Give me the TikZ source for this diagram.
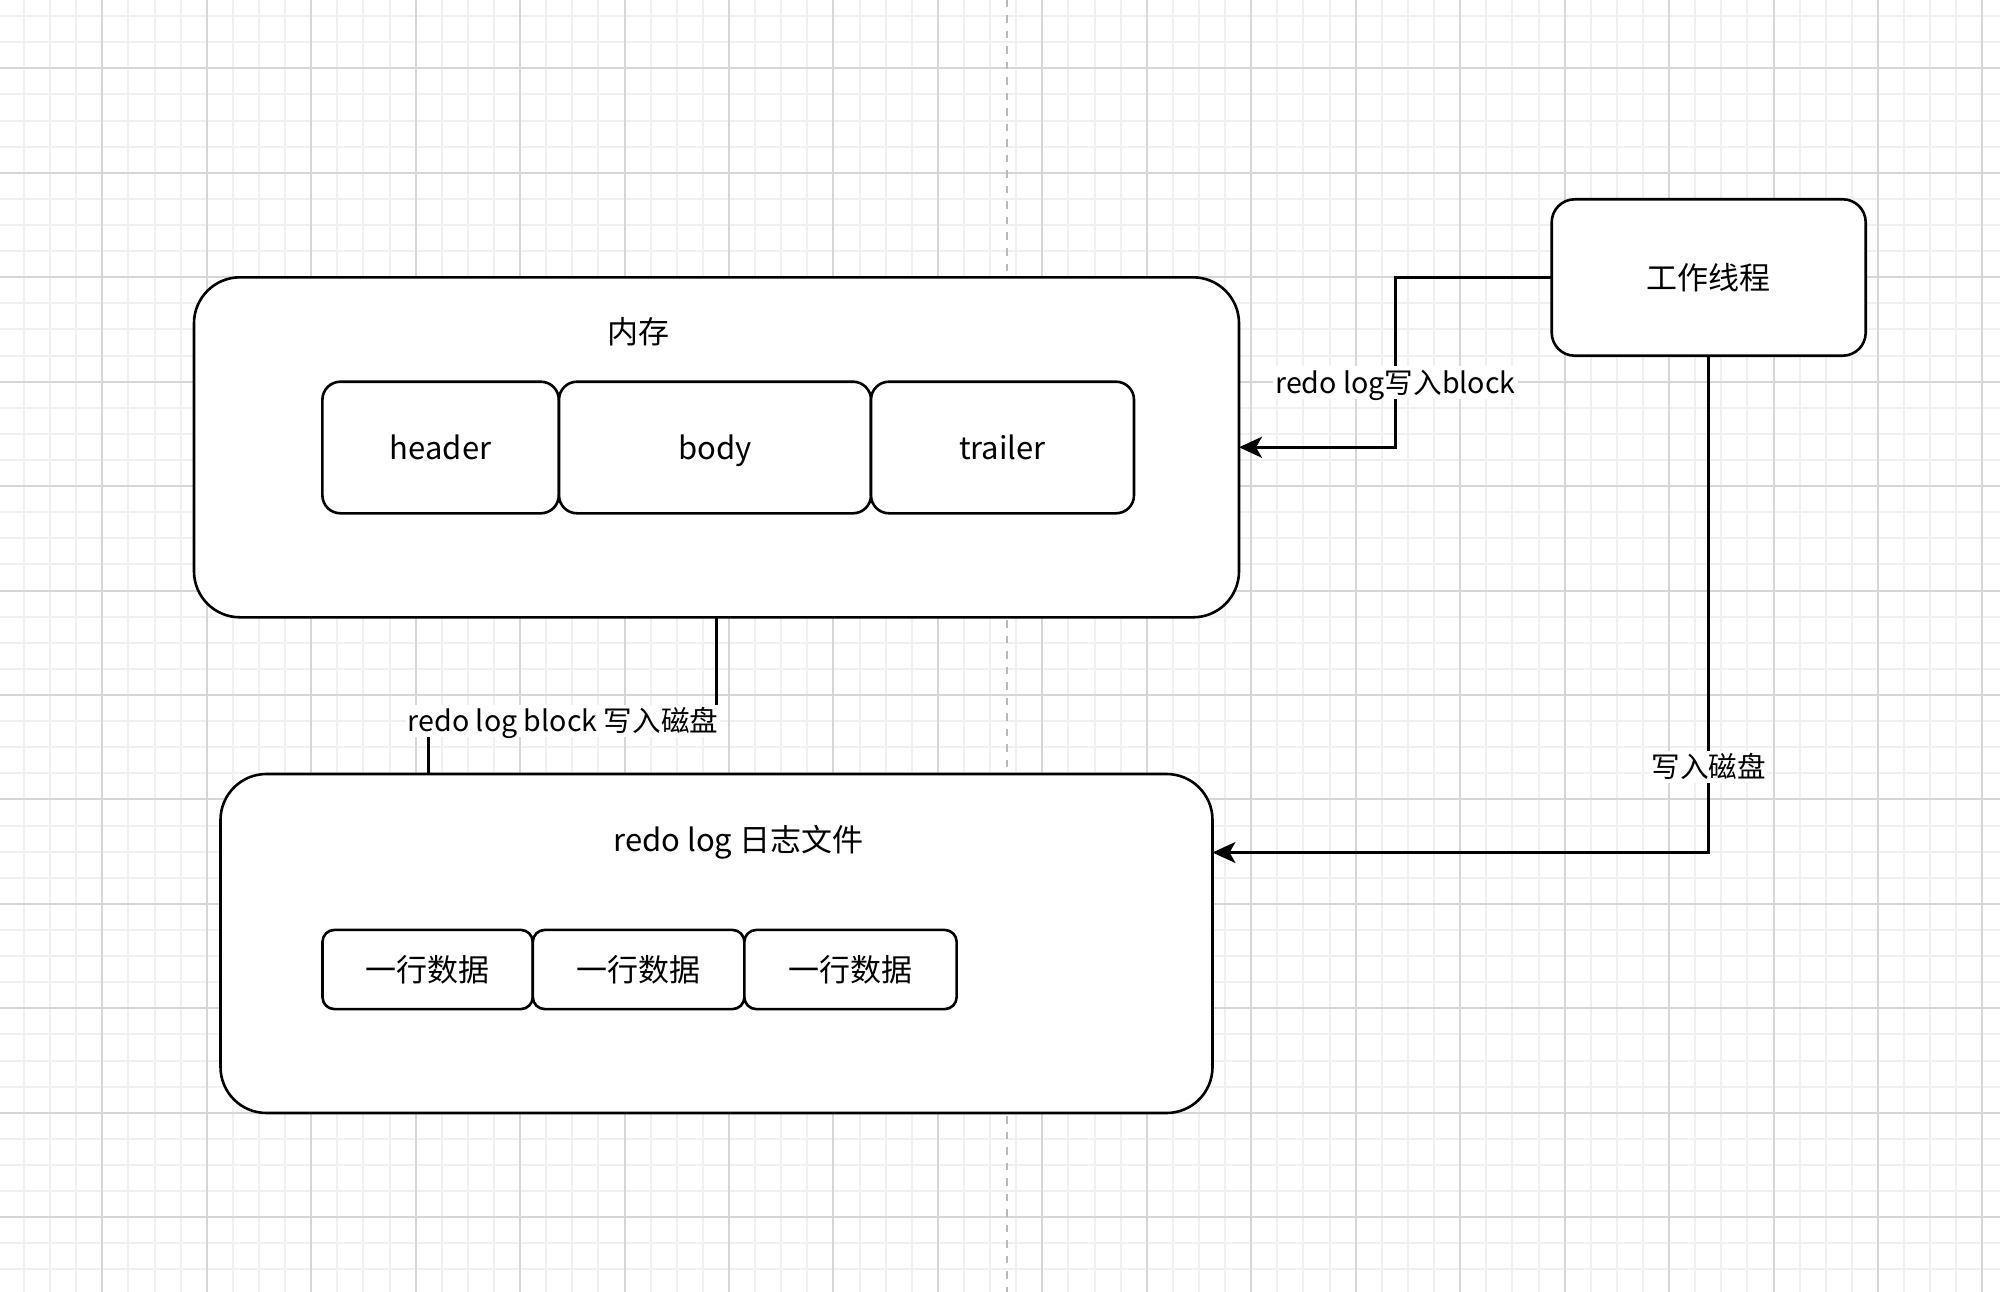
\documentclass[tikz,border=0pt]{standalone}
\usepackage{fontspec}
\setmainfont{Noto Sans CJK SC}
\usetikzlibrary{arrows.meta}
\newcommand\myvfont{\fontsize{31}{37}\selectfont}
\newcommand\myefont{\fontsize{28.6}{34}\selectfont}
\begin{document}
\begin{tikzpicture}[x=1pt,y=-1pt,
  minorline/.style={draw={rgb,255:red,240;green,240;blue,240}, line width=2pt},
  majorline/.style={draw={rgb,255:red,214;green,214;blue,214}, line width=2pt},
  rbox/.style={draw=black, line width=2.6pt, fill=white, inner sep=0pt, outer sep=0pt, rounded corners=#1},
  vtext/.style={font=\myvfont, text height=27.3pt, text depth=3.7pt, inner sep=0pt},
  etext/.style={font=\myefont, text height=25.2pt, text depth=3.4pt, inner sep=2pt, fill=white},
  conn/.style={draw=black, line width=2.6pt},
  tip/.style={-{Stealth[length=23pt,width=21pt,inset=6pt]}}
]
\useasboundingbox (0,0) rectangle (2000,1292);
\clip (0,0) rectangle (2000,1292);
\fill[white] (0,0) rectangle (2000,1292);
% grid
\foreach \i in {-4,...,73} \draw[minorline] ({102.3+26.1125*\i},0) -- ++(0,1292);
\foreach \i in {-3,...,47} \draw[minorline] (0,{68.3+26.1125*\i}) -- ++(2000,0);
\foreach \i in {-1,...,18} \draw[majorline] ({102.3+104.45*\i},0) -- ++(0,1292);
\foreach \i in {-1,...,12} \draw[majorline] (0,{68.3+104.45*\i}) -- ++(2000,0);
% page divider
\draw[draw={rgb,255:red,185;green,185;blue,185}, line width=2pt, dash pattern=on 7.5pt off 8pt] (1006.7,0) -- (1006.7,1292);

% memory block
\node[rbox=46pt, minimum width=1045pt, minimum height=340pt] (mem) at (716.5,447.3) {};
\node[vtext] (memlabel) at (638,332) {内存};
\node[rbox=18pt, minimum width=236.4pt, minimum height=131.6pt, vtext] (header) at (440.6,447.5) {header};
\node[rbox=18pt, minimum width=312pt, minimum height=131.6pt, vtext] (body) at (715,447.5) {body};
\node[rbox=18pt, minimum width=263pt, minimum height=131.6pt, vtext] (trailer) at (1002.5,447.5) {trailer};

% redo log file
\node[rbox=46pt, minimum width=992pt, minimum height=339pt] (redo) at (716.5,943.5) {};
\node[vtext] (redolabel) at (738.5,840) {redo log 日志文件};
\node[rbox=12pt, minimum width=210.3pt, minimum height=79.2pt, vtext] (row1) at (427.6,969.5) {一行数据};
\node[rbox=12pt, minimum width=211.6pt, minimum height=79.2pt, vtext] (row2) at (638.6,969.5) {一行数据};
\node[rbox=12pt, minimum width=212.3pt, minimum height=79.2pt, vtext] (row3) at (850.5,969.5) {一行数据};

% worker thread
\node[rbox=23pt, minimum width=314pt, minimum height=156.4pt, vtext] (worker) at (1708.7,277.5) {工作线程};

% connector: worker -> memory
\coordinate (c1) at (1395.4,382.5);
\draw[conn, tip] (worker.west) -| (c1) |- (mem.east);
\node[etext] (l1) at (c1) {redo log写入block};

% connector: worker -> redo log file
\path (redo.north east) ++(0,78.5) coordinate (redoin);
\draw[conn, tip] (worker.south) |- (redoin);
\node[etext] (l2) at (1708.7,767) {写入磁盘};

% connector: memory -> redo log file
\coordinate (k1) at (716.5,721);
\coordinate (k2) at (428.4,721);
\draw[conn] (mem.south) -- (k1) -- (k2) -- (k2 |- redo.north);
\node[etext] (l3) at (563,721) {redo log block 写入磁盘};
\end{tikzpicture}
\end{document}
